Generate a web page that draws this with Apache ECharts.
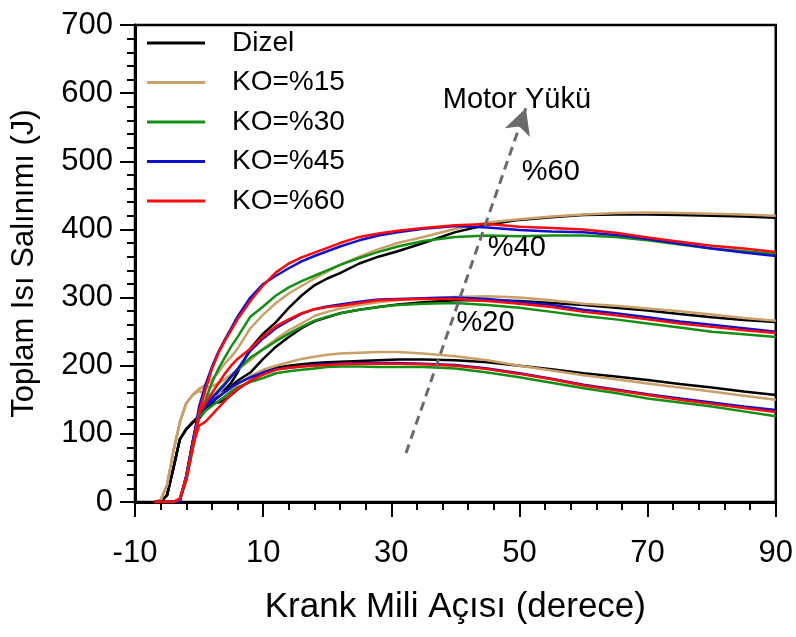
<!DOCTYPE html>
<html>
<head>
<meta charset="utf-8">
<script src="https://cdn.jsdelivr.net/npm/echarts@6/dist/echarts.min.js"></script>
<style>
  html, body { margin: 0; padding: 0; background: #fff; }
  #chart { width: 796px; height: 637px; }
</style>
</head>
<body>
<div id="chart"></div>
<script>
// crank angle (degrees)
var angles = [-7,-6,-5,-4,-3,-2,-1,0,1,2,3,4,5,6,8,10,12,14,16,18,20,22,25,28,31,35,40,45,50,55,60,65,70,75,80,85,90];

// cumulative heat release (J) at %20, %40 and %60 engine load
var dizel20 = [0,0,10,50,92,107,117,122,135,145,146,150,157,165,178,190,197,200,202,204,205,206,207,208,209,209,208,205,200,195,189,184,179,173,168,162,157];
var dizel40 = [0,0,10,50,92,107,117,126,136,146,154,162,170,178,190,210,228,242,255,265,271,277,282,286,290,293,296,296,295,292,289,285,281,276,271,267,264];
var dizel60 = [0,0,10,50,92,107,117,126,138,148,155,165,175,190,225,247,264,285,303,318,328,336,350,360,368,380,396,407,414,418,421,422,422,421,420,419,417];

var ko15_20 = [0,3,25,75,117,145,157,163,158,157,158,161,166,172,185,194,200,205,210,213,216,218,219,220,220,218,214,208,200,193,186,180,174,168,162,156,150];
var ko15_40 = [0,3,25,75,117,145,157,166,168,170,174,180,187,194,208,225,239,252,262,273,279,284,289,293,296,299,301,302,300,296,291,288,284,280,275,270,266];
var ko15_60 = [0,3,25,75,117,145,157,166,172,180,190,203,213,225,255,275,292,306,317,328,338,348,360,371,380,389,401,410,415,419,422,424,425,424,423,422,420];

var ko30_20 = [0,0,0,0,4,32,78,124,134,141,148,155,162,168,176,182,189,192,194,196,198,199,199,198,198,198,196,190,183,175,167,160,152,146,140,133,126];
var ko30_40 = [0,0,0,0,4,32,78,126,143,154,164,174,184,194,212,224,236,247,257,266,272,277,282,286,289,291,292,289,285,279,273,268,262,256,250,246,242];
var ko30_60 = [0,0,0,0,4,32,78,126,150,175,195,212,228,242,272,287,303,315,324,332,340,348,358,367,375,383,389,391,390,391,391,389,384,378,372,368,364];

var ko45_20 = [0,0,0,0,2,38,88,130,140,147,154,161,168,174,183,190,195,197,199,201,202,203,204,204,204,203,201,196,189,181,172,165,158,152,146,140,135];
var ko45_40 = [0,0,0,0,2,38,88,130,142,152,162,172,184,195,222,240,255,266,276,283,287,290,294,297,298,299,300,298,294,289,282,277,271,265,260,255,250];
var ko45_60 = [0,0,0,0,2,38,88,140,172,198,220,238,255,272,300,320,332,343,353,361,368,375,384,391,396,401,405,403,399,397,396,392,386,379,372,366,361];

var ko60_20 = [0,0,0,0,5,35,82,112,118,128,138,148,158,166,178,187,194,197,199,200,201,202,203,203,203,202,200,195,188,180,171,164,157,150,144,138,132];
var ko60_40 = [0,0,0,0,5,35,82,130,145,160,174,188,200,210,225,243,258,268,277,283,286,288,292,296,297,298,298,295,291,286,279,274,268,262,257,252,248];
var ko60_60 = [0,0,0,0,5,35,82,132,165,195,218,236,252,268,295,318,337,350,359,366,373,380,389,394,398,402,406,408,404,402,400,395,388,382,376,372,367];

var fuels = [
  { name: 'Dizel',   color: '#000000', sets: [dizel20, dizel40, dizel60] },
  { name: 'KO=%15',  color: '#c9a06a', sets: [ko15_20, ko15_40, ko15_60] },
  { name: 'KO=%30',  color: '#129012', sets: [ko30_20, ko30_40, ko30_60] },
  { name: 'KO=%45',  color: '#1010d0', sets: [ko45_20, ko45_40, ko45_60] },
  { name: 'KO=%60',  color: '#ff0a0a', sets: [ko60_20, ko60_40, ko60_60] }
];

// annotation: load arrow and labels
var arrowFrom = [32.3, 72];
var arrowTo = [51, 578];
var notes = [
  { name: 'Motor Yükü', coord: [49.6, 590] },
  { name: '%60', coord: [54.9, 485] },
  { name: '%40', coord: [49.6, 373] },
  { name: '%20', coord: [44.7, 263] }
];

var FONT = '"Liberation Sans", Arial, sans-serif';

var series = [];
fuels.forEach(function (f) {
  f.sets.forEach(function (vals) {
    series.push({
      name: f.name,
      type: 'line',
      symbol: 'none',
      silent: true,
      data: angles.map(function (a, i) { return [a, vals[i]]; }),
      lineStyle: { color: f.color, width: 2.5 },
      itemStyle: { color: f.color }
    });
  });
});

series.push({
  name: 'notes',
  type: 'line',
  data: [],
  silent: true,
  markLine: {
    silent: true,
    symbol: ['none', 'arrow'],
    symbolSize: [20, 26],
    label: { show: false },
    lineStyle: { color: '#6b6b6b', width: 3, type: [9, 6] },
    data: [[{ coord: arrowFrom }, { coord: arrowTo }]]
  },
  markPoint: {
    silent: true,
    symbol: 'circle',
    symbolSize: 0,
    label: {
      show: true,
      position: 'inside',
      formatter: '{b}',
      color: '#000',
      fontSize: 29,
      fontFamily: FONT
    },
    data: notes
  }
});

var chart = echarts.init(document.getElementById('chart'));
chart.setOption({
  animation: false,
  backgroundColor: '#fff',
  grid: {
    left: 135, right: 18, top: 25, bottom: 135,
    show: true, borderColor: '#000', borderWidth: 2.5
  },
  legend: {
    data: fuels.map(function (f) { return f.name; }),
    orient: 'vertical',
    left: 142, top: 23,
    icon: 'rect',
    itemWidth: 58, itemHeight: 3,
    itemGap: 9.5,
    textStyle: { fontSize: 28, fontFamily: FONT, color: '#000', padding: [0, 0, 0, 22], lineHeight: 30 }
  },
  xAxis: {
    type: 'value',
    min: -10, max: 90, interval: 20,
    name: 'Krank Mili Açısı (derece)',
    nameLocation: 'middle', nameGap: 88,
    nameTextStyle: { fontSize: 35, fontFamily: FONT, color: '#000' },
    axisLine: { show: true, onZero: false, lineStyle: { color: '#000', width: 3 } },
    axisTick: { show: true, inside: false, length: 15, lineStyle: { color: '#000', width: 2 } },
    minorTick: { show: true, splitNumber: 5, length: 8, lineStyle: { color: '#000', width: 2 } },
    splitLine: { show: false },
    axisLabel: { fontSize: 31, fontFamily: FONT, color: '#000', margin: 36 }
  },
  yAxis: {
    type: 'value',
    min: 0, max: 700, interval: 100,
    name: 'Toplam Isı Salınımı (J)',
    nameLocation: 'middle', nameGap: 95,
    nameTextStyle: { fontSize: 31, fontFamily: FONT, color: '#000' },
    axisLine: { show: true, onZero: false, lineStyle: { color: '#000', width: 3 } },
    axisTick: { show: true, inside: false, length: 15, lineStyle: { color: '#000', width: 2 } },
    minorTick: { show: true, splitNumber: 5, length: 8, lineStyle: { color: '#000', width: 2 } },
    splitLine: { show: false },
    axisLabel: { fontSize: 31, fontFamily: FONT, color: '#000', margin: 22 }
  },
  series: series
});
</script>
</body>
</html>
